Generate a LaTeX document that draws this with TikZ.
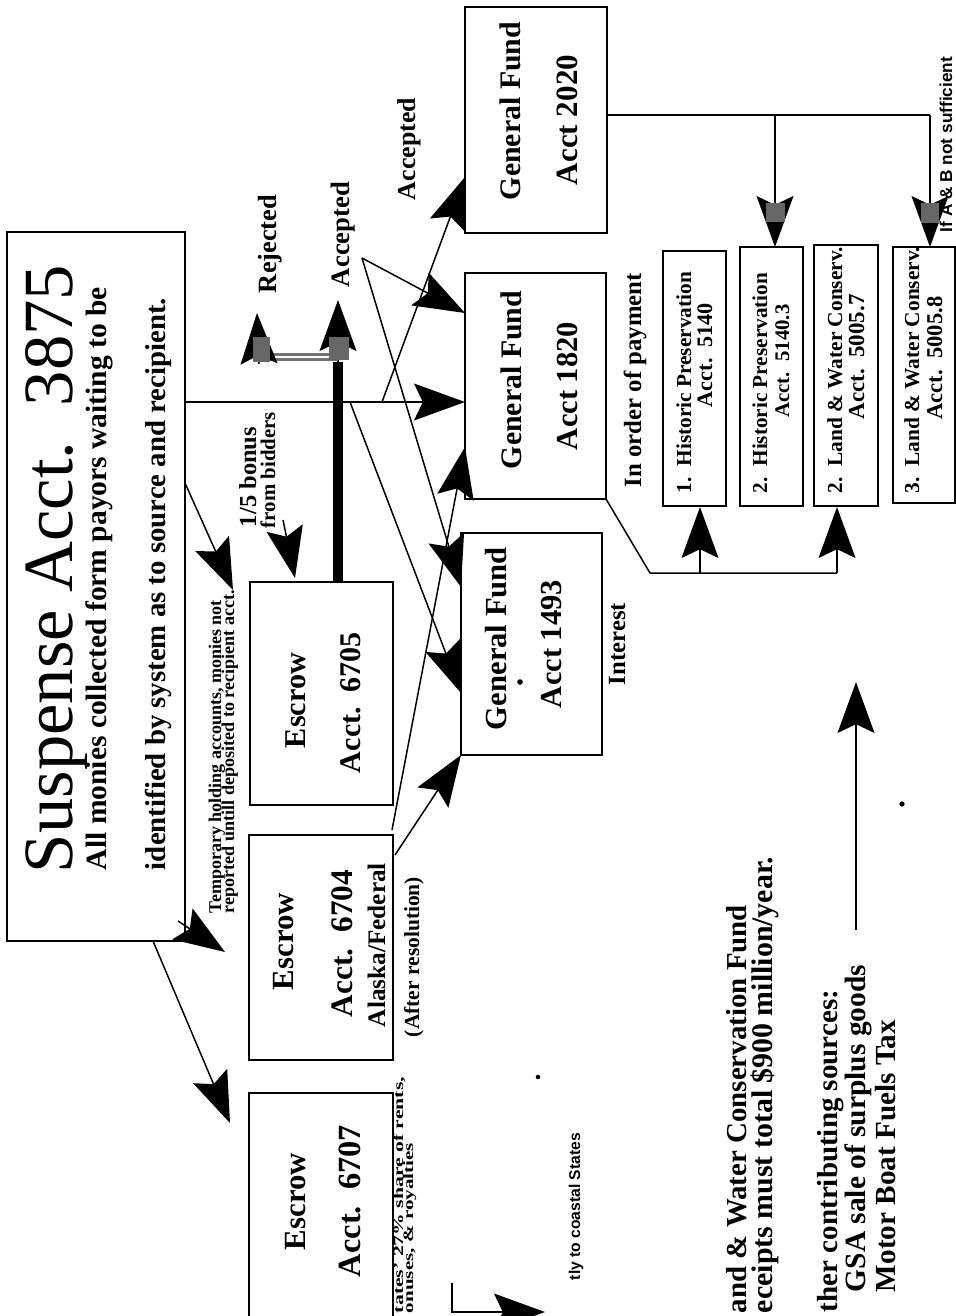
\documentclass[tikz,border=0pt]{standalone}
\usepackage{fontspec}
\setmainfont{Liberation Serif}
\newfontfamily\labelsans{Liberation Sans}
\usetikzlibrary{arrows.meta}
\newlength\fwlen
\newlength\fhlen
% set a text to a given length (in picture units of 0.02cm)
\newcommand\fw[2]{\fwlen=\dimexpr0.02cm*#1\relax\resizebox{\fwlen}{!}{#2}}
% set a text to a given length and height (picture units)
\newcommand\fwh[3]{\fwlen=\dimexpr0.02cm*#1\relax\fhlen=\dimexpr0.02cm*#2\relax
  \resizebox{\fwlen}{\fhlen}{#3}}
\begin{document}
\begin{tikzpicture}[x=0.02cm,y=-0.02cm,
  box/.style 2 args={draw, line width=1.1pt, minimum width=#1*0.02cm,
    minimum height=#2*0.02cm, inner sep=0pt, outer sep=0pt},
  vt/.style={rotate=90, inner sep=0pt, outer sep=0pt, font=\bfseries},
  conn/.style={line width=0.85pt},
  arr/.style={conn, -{Stealth[length=29pt,width=21pt,inset=5pt]}},
  shade/.style={fill=black!60, draw=none},
  speck/.style={fill=black}]
\useasboundingbox (0,0) rectangle (956,1316);
\clip (0,0) rectangle (956,1316);

% ---------- boxes ----------
\node[box={178}{709}, line width=0.8pt] (sus) at (96,586.5) {};
\node[box={143}{223}] (e6705) at (321.5,693.5) {};
\node[box={144}{225}] (e6704) at (321,947.5) {};
\node[box={144}{244}] (e6707) at (321,1215) {};
\node[box={141}{222}] (gf1493) at (531.5,644) {};
\node[box={141}{226}] (gf1820) at (535.5,386) {};
\node[box={142}{226}] (gf2020) at (536,120) {};
\node[box={63}{255}] (hp1) at (694.5,378.5) {};
\node[box={63}{259}] (hp2) at (771.5,376.5) {};
\node[box={64}{261}] (lw1) at (846,375.5) {};
\node[box={62}{256}, line width=1.6pt] (lw2) at (924,375) {};

% ---------- suspense account ----------
\node[vt, font=\mdseries, anchor=base west] (title) at (72,873)
  {\fw{608}{\fontsize{39}{39}\selectfont Suspense Acct.\ \ 3875}};
\node[vt, anchor=base west] (sus2) at (106,870)
  {\fw{583}{All monies collected form payors waiting to be}};
\node[vt, anchor=base west] (sus3) at (165,870)
  {\fw{572}{identified by system as to source and recipient.}};

% ---------- small annotations ----------
\node[vt, anchor=base west] (tmp1) at (221,913)
  {\fw{313}{Temporary holding accounts, monies not}};
\node[vt, anchor=base west] (tmp2) at (234,913)
  {\fw{323}{reported untill deposited to recipient acct.}};
\node[vt, anchor=base west] (bon1) at (256,527) {\fw{100}{1/5 bonus}};
\node[vt, anchor=base west] (bon2) at (275,528) {\fw{116}{from bidders}};
\node[vt, anchor=base west] (rej) at (276,293) {\fw{98}{Rejected}};
\node[vt, anchor=base west] (acc1) at (349,287) {\fw{105}{Accepted}};
\node[vt, anchor=base west] (acc2) at (415,200) {\fw{102}{Accepted}};
\node[vt, anchor=base west] (after) at (419,1037) {\fw{160}{(After resolution)}};
\node[vt, anchor=base west] (share1) at (403,1313)
  {\fwh{236}{10}{tates' 27\% share of rents,}};
\node[vt, anchor=base west] (share2) at (413,1313)
  {\fwh{170}{10}{onuses, \& royalties}};
\node[vt, font=\labelsans\bfseries, anchor=base west] (coast) at (580,1280)
  {\fw{147}{tly to coastal States}};
\node[vt, font=\labelsans\bfseries, anchor=base west] (notsuf) at (952,232)
  {\fw{175}{If A \& B not sufficient}};
\node[vt, anchor=base west] (order) at (641,487) {\fw{214}{In order of payment}};
\node[vt, anchor=base west] (interest) at (625,685) {\fw{82}{Interest}};

% ---------- escrow accounts ----------
\node[vt, anchor=base west] (e5a) at (305,748) {\fw{95}{Escrow}};
\node[vt, anchor=base west] (e5b) at (360,773) {\fw{141}{Acct.\ \ 6705}};
\node[vt, anchor=base west] (e4a) at (293,990) {\fw{97}{Escrow}};
\node[vt, anchor=base west] (e4b) at (352,1017) {\fw{147}{Acct.\ \ 6704}};
\node[vt, anchor=base west] (e4c) at (385,1027) {\fw{164}{Alaska/Federal}};
\node[vt, anchor=base west] (e7a) at (305,1250) {\fw{97}{Escrow}};
\node[vt, anchor=base west] (e7b) at (360,1277) {\fw{152}{Acct.\ \ 6707}};

% ---------- general funds ----------
\node[vt, anchor=base west] (g20a) at (520,200) {\fw{178}{General Fund}};
\node[vt, anchor=base west] (g20b) at (577,185) {\fw{130}{Acct 2020}};
\node[vt, anchor=base] (g18a) at (521,380) {\fw{178}{General Fund}};
\node[vt, anchor=base] (g18b) at (577,386) {\fw{128}{Acct 1820}};
\node[vt, anchor=base west] (g14a) at (506,730) {\fw{183}{General Fund}};
\node[vt, anchor=base west] (g14b) at (561,708) {\fw{128}{Acct 1493}};
\fill[speck] (520,682) circle (1.6pt);

% ---------- receiving accounts ----------
\node[vt, anchor=base west] (hp1a) at (691,493) {\fw{221}{1.\ \ Historic Preservation}};
\node[vt, anchor=base] (hp1b) at (712,355) {\fw{104}{Acct.\ \ 5140}};
\node[vt, anchor=base west] (hp2a) at (767,493) {\fw{220}{2.\ \ Historic Preservation}};
\node[vt, anchor=base] (hp2b) at (789,361) {\fw{113}{Acct.\ \ 5140.3}};
\node[vt, anchor=base west] (lw1a) at (842,493) {\fw{246}{2.\ \ Land \& Water Conserv.}};
\node[vt, anchor=base] (lw1b) at (864,357) {\fw{125}{Acct.\ \ 5005.7}};
\node[vt, anchor=base west] (lw2a) at (919,493) {\fw{246}{3.\ \ Land \& Water Conserv.}};
\node[vt, anchor=base] (lw2b) at (942,358) {\fw{123}{Acct.\ \ 5005.8}};

% ---------- fund notes ----------
\node[vt, anchor=base west] (lwcf1) at (746,1313)
  {\fw{408}{and \& Water Conservation Fund}};
\node[vt, anchor=base west] (lwcf2) at (772,1313)
  {\fw{456}{eceipts must total \$900 million/year.}};
\node[vt, anchor=base west] (other1) at (837,1312)
  {\fw{322}{ther contributing sources:}};
\node[vt, anchor=base west] (other2) at (865,1292)
  {\fw{327}{GSA sale of surplus goods}};
\node[vt, anchor=base west] (other3) at (895,1292)
  {\fw{272}{Motor Boat Fuels Tax}};

% ---------- connector end points ----------
\coordinate (susR) at (185,402);
\coordinate (jB) at (382,402);
\coordinate (jK) at (350,402);
\coordinate (accL) at (362,258);
\coordinate (in2020) at (465,177);
\coordinate (in1820a) at (465,402);
\coordinate (in1820b) at (465,313);
\coordinate (in1820c) at (465,447);
\coordinate (in1493a) at (461,587);
\coordinate (in1493b) at (461,693);
\coordinate (in1493c) at (461,755);
\coordinate (out6704a) at (392,830);
\coordinate (out6704b) at (395,855);
\coordinate (susTmp) at (185,483);
\coordinate (tmpTip) at (233,590);
\coordinate (susCorner) at (178,921);
\coordinate (tmpEnd) at (225,952);
\coordinate (susBot) at (153,941);
\coordinate (to6707) at (230,1123);
\coordinate (bonFrom) at (283,520);
\coordinate (bonTip) at (295,578);
\coordinate (e6705top) at (338,582);
\coordinate (thickTop) at (338,362);
\coordinate (accTip) at (338,300);
\coordinate (rejBase) at (259,364);
\coordinate (rejTip) at (257,313);
\coordinate (out2020) at (607,115);
\coordinate (k2020a) at (775,115);
\coordinate (k2020b) at (930,115);
\coordinate (tip2) at (775,247);
\coordinate (tip4) at (930,247);
\coordinate (bend1820) at (650,573);
\coordinate (k1820a) at (700,573);
\coordinate (k1820b) at (837,573);
\coordinate (tip1) at (700,507);
\coordinate (tip3) at (837,507);
\coordinate (otherFrom) at (856,930);
\coordinate (otherTip) at (856,682);
\coordinate (coastA) at (452,1283);
\coordinate (coastB) at (452,1312);
\coordinate (coastTip) at (545,1312);

% ---------- connectors ----------
\draw[arr] (susR) -- (in1820a);
\draw[arr] (jB) -- (in2020);
\draw[arr] (accL) -- (in1820b);
\draw[arr] (accL) -- (in1493a);
\draw[arr] (jK) -- (in1493b);
\draw[arr] (out6704a) -- (in1820c);
\draw[arr] (out6704b) -- (in1493c);
\draw[arr] (susTmp) -- (tmpTip);
\draw[arr] (susCorner) -- (tmpEnd);
\draw[arr] (susBot) -- (to6707);
\draw[arr] (bonFrom) -- (bonTip);

% bonus line up to the accepted / rejected split
\draw[line width=5.5pt] (e6705top) -- (thickTop);
\draw[arr] (thickTop) -- (accTip);
\draw[draw=black!55, double=white, line width=1.2pt, double distance=1.6pt]
  (thickTop |- 0,357) -- (rejBase |- 0,357);
\draw[arr] (rejBase) -- (rejTip);
\fill[shade] (253,337) rectangle (270,362);
\fill[shade] (329,337) rectangle (349,360);

% general fund 2020 feeding the preservation / conservation accounts
\draw[conn] (out2020) -- (k2020b);
\draw[arr] (k2020a) -- (tip2);
\draw[arr] (k2020b) -- (tip4);
\fill[shade] (766,203) rectangle (785,222);
\fill[shade] (921,203) rectangle (939,223);

% general fund 1820 feeding the first accounts
\draw[conn] (gf1820.south east) -- (bend1820) -- (k1820b);
\draw[arr] (k1820a) -- (tip1);
\draw[arr] (k1820b) -- (tip3);

% other sources
\draw[arr] (otherFrom) -- (otherTip);
\draw[arr] (coastA) -- (coastB) -- (coastTip);

% loose marks
\fill[speck] (902,804) circle (1.5pt);
\fill[speck] (538,1077) circle (1.3pt);
\end{tikzpicture}
\end{document}
